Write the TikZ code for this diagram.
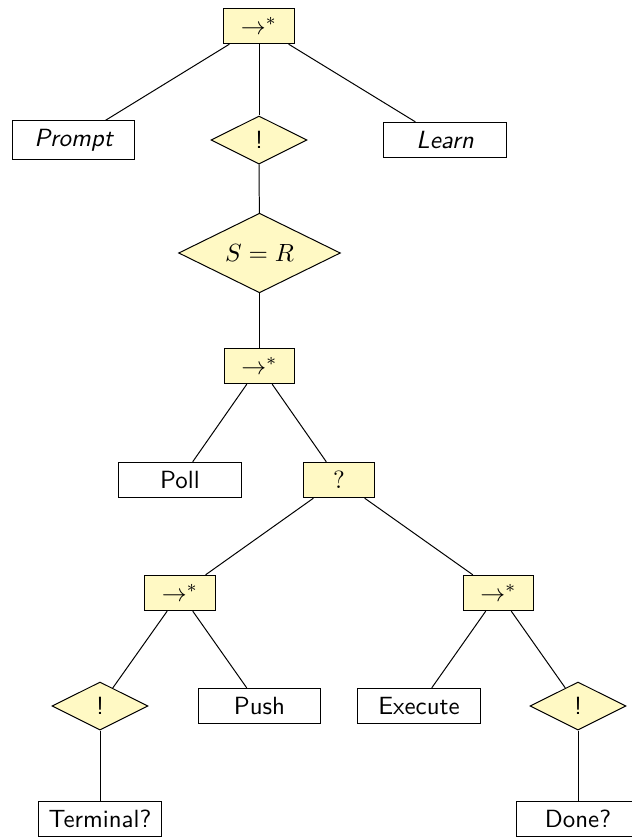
\documentclass[tikz,border=0pt]{standalone}
\usetikzlibrary{shapes.geometric}
\definecolor{nodeyellow}{RGB}{255,249,196}
\begin{document}
\begin{tikzpicture}[x=0.4018pt,y=-0.4018pt, font=\sffamily,
  leaf/.style={draw,fill=white,minimum width=49.4pt,minimum height=14.2pt,inner sep=3.33pt},
  ctrl/.style={draw,fill=nodeyellow,minimum width=28.45pt,minimum height=14.2pt},
  cond/.style={draw,fill=nodeyellow,diamond,aspect=2,inner sep=1pt,minimum width=38.5pt,minimum height=19.3pt},
  link/.style={line width=0.4pt}]
\useasboundingbox (0,0) rectangle (631,838);
\node[ctrl] (root) at (259,26) {$\rightarrow^*$};
\node[leaf] (prompt) at (73.5,140) {\itshape Prompt};
\node[cond] (b1) at (259,140) {!};
\node[leaf] (learn) at (445,140) {\itshape Learn};
\node[cond,minimum width=65pt,minimum height=32pt] (sr) at (259.5,253) {$S=R$};
\node[ctrl] (seq2) at (259.5,366) {$\rightarrow^*$};
\node[leaf] (poll) at (180,480) {Poll};
\node[ctrl] (sel) at (339,480) {$?$};
\node[ctrl] (seqL) at (180,593) {$\rightarrow^*$};
\node[ctrl] (seqR) at (498.5,593) {$\rightarrow^*$};
\node[cond] (bL) at (100,706) {!};
\node[leaf] (push) at (259.5,706) {Push};
\node[leaf] (exec) at (419,706) {Execute};
\node[cond] (bR) at (578,706) {!};
\node[leaf] (term) at (100,819) {Terminal?};
\node[leaf] (done) at (578,819) {Done?};
\draw[link] (root) -- (prompt);
\draw[link] (root) -- (b1);
\draw[link] (root) -- (learn);
\draw[link] (b1) -- (sr);
\draw[link] (sr) -- (seq2);
\draw[link] (seq2) -- (poll);
\draw[link] (seq2) -- (sel);
\draw[link] (sel) -- (seqL);
\draw[link] (sel) -- (seqR);
\draw[link] (seqL) -- (bL);
\draw[link] (seqL) -- (push);
\draw[link] (seqR) -- (exec);
\draw[link] (seqR) -- (bR);
\draw[link] (bL) -- (term);
\draw[link] (bR) -- (done);
\end{tikzpicture}
\end{document}
